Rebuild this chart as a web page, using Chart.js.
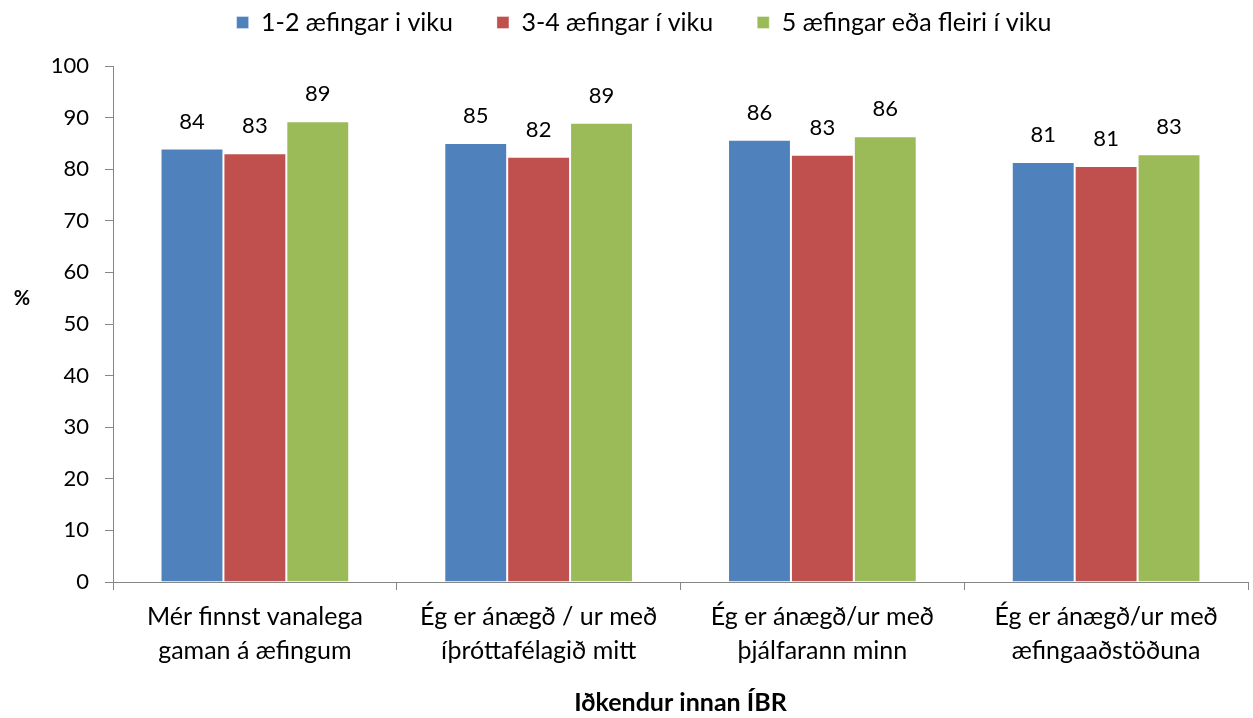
<!DOCTYPE html>
<html>
<head>
<meta charset="utf-8">
<script src="https://cdn.jsdelivr.net/npm/chart.js@4/dist/chart.umd.min.js"></script>
<style>
  html, body { margin: 0; padding: 0; background: #fff; }
  #wrap { width: 1253px; height: 718px; position: relative; }
</style>
</head>
<body>
<div id="wrap"><canvas id="chart"></canvas></div>
<script>
const categories = [
  ["Mér finnst vanalega", "gaman á æfingum"],
  ["Ég er ánægð / ur með", "íþróttafélagið mitt"],
  ["Ég er ánægð/ur með", "þjálfarann minn"],
  ["Ég er ánægð/ur með", "æfingaaðstöðuna"],
];
const seriesNames = ["1-2 æfingar i viku", "3-4 æfingar í viku", "5 æfingar eða fleiri í viku"];
const lowValues = [84.0, 85.1, 85.7, 81.4];
const midValues = [83.1, 82.4, 82.8, 80.6];
const highValues = [89.3, 89.0, 86.4, 82.9];
const colors = ["#4F81BD", "#C0504D", "#9BBB59"];

const font = "Lato, 'Open Sans', sans-serif";
const legendPadding = 44;

// value labels above each bar
const valueLabels = {
  id: "valueLabels",
  afterDatasetsDraw(chart) {
    const ctx = chart.ctx;
    ctx.save();
    ctx.font = `22px ${font}`;
    ctx.fillStyle = "#000";
    ctx.textAlign = "center";
    ctx.textBaseline = "bottom";
    chart.data.datasets.forEach((ds, i) => {
      chart.getDatasetMeta(i).data.forEach((bar, j) => {
        ctx.fillText(Math.round(ds.data[j]), bar.x, bar.y - 16);
      });
    });
    ctx.restore();
  },
};

// "%" title on the left, not rotated
const percentTitle = {
  id: "percentTitle",
  afterDraw(chart) {
    const ctx = chart.ctx;
    const area = chart.chartArea;
    ctx.save();
    ctx.font = `bold 20px ${font}`;
    ctx.fillStyle = "#000";
    ctx.textAlign = "center";
    ctx.textBaseline = "middle";
    ctx.fillText("%", 22, (area.top + area.bottom) / 2 - 25);
    ctx.restore();
  },
};

// wide gaps between legend items, but a short legend box
const legendFit = {
  id: "legendFit",
  beforeInit(chart) {
    const legend = chart.legend;
    const fit = legend.fit;
    legend.fit = function () {
      fit.call(this);
      this.height = 66;
    };
  },
  afterLayout(chart) {
    const legend = chart.legend;
    legend.top = 22 - legendPadding - 12;
    legend.left += 20;
    legend.right += 20;
  },
};

new Chart(document.getElementById("chart"), {
  type: "bar",
  data: {
    labels: categories,
    datasets: [lowValues, midValues, highValues].map((d, i) => ({
      label: seriesNames[i],
      data: d,
      backgroundColor: colors[i],
      borderColor: "rgba(255,255,255,0.35)",
      borderWidth: 1,
      categoryPercentage: 0.665,
      barPercentage: 1,
    })),
  },
  options: {
    responsive: true,
    maintainAspectRatio: false,
    animation: false,
    layout: { padding: { left: 0, right: 5, top: 0, bottom: 0 } },
    plugins: {
      legend: {
        position: "top",
        labels: {
          font: { family: font, size: 25 },
          color: "#000",
          boxWidth: 12,
          boxHeight: 12,
          padding: legendPadding,
        },
      },
      tooltip: { enabled: false },
    },
    scales: {
      x: {
        border: { color: "#868686", width: 1 },
        grid: { display: true, drawOnChartArea: false, tickLength: 8, color: "#868686", offset: true },
        ticks: { font: { family: font, size: 25, lineHeight: 1.36 }, color: "#000", padding: 10, maxRotation: 0 },
        title: {
          display: true,
          text: "Iðkendur innan ÍBR",
          font: { family: font, size: 25, weight: "bold" },
          color: "#000",
          padding: { top: 0, bottom: 0 },
        },
        afterFit(scale) { scale.height = 136; },
      },
      y: {
        min: 0,
        max: 100,
        border: { color: "#868686", width: 1 },
        grid: { display: true, drawOnChartArea: false, tickLength: 8, color: "#868686" },
        ticks: { stepSize: 10, font: { family: font, size: 22 }, color: "#000", padding: 16 },
        afterFit(scale) { scale.width = 113; },
      },
    },
  },
  plugins: [valueLabels, percentTitle, legendFit],
});
</script>
</body>
</html>
